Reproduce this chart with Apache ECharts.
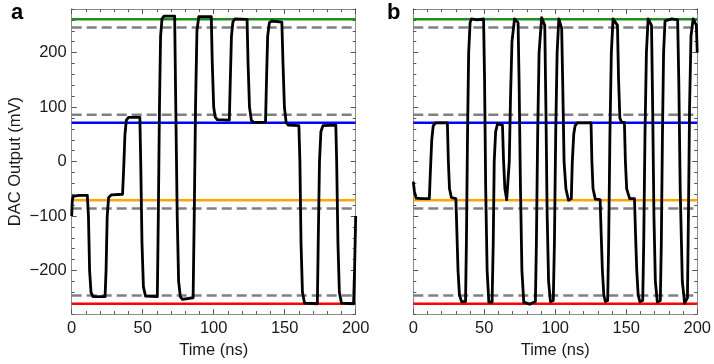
<!DOCTYPE html>
<html>
<head>
<meta charset="utf-8">
<script src="https://cdn.jsdelivr.net/npm/echarts@6/dist/echarts.min.js"></script>
<style>html,body{margin:0;padding:0;background:#fff}#c{width:714px;height:364px}</style>
</head>
<body>
<div id="c"></div>
<script>
// ---- data ----
const panelLabels = ['a', 'b'];
const xTicks = [0, 50, 100, 150, 200];
const yMajorTicks = [-200, -100, 0, 100, 200];
const yMinorTicks = [-280,-260,-240,-220,-180,-160,-140,-120,-80,-60,-40,-20,20,40,60,80,120,140,160,180,220,240,260,280];
const solidLevels = [261, 71, -71, -261];
const solidColors = ['#1f8c1f', '#0000ff', '#ffa500', '#ff0000'];
const dashedLevels = [246, 86, -86, -246];

const traceA = [
[0,-100],[0.4,-72],[1,-64],[5,-62],[11,-62],[11.8,-100],[12.6,-200],[13.6,-240],[15,-248],[23.5,-248],
[24.2,-200],[25,-100],[26,-66],[28,-61],[35.8,-60],[36.5,-20],[37.5,50],[38.5,76],[40,81],[48,81],
[48.6,0],[49.5,-150],[50.5,-230],[52,-247],[60.3,-248],[61,-100],[61.8,100],[62.6,230],[63.6,262],[65,267],
[72.5,267],[73.3,100],[74.3,-100],[75.3,-220],[76.5,-248],[78,-253],[85.5,-250],[86.3,-100],[87.2,100],[88.2,240],
[89.5,266],[98.3,266],[99,180],[100,100],[101,82],[102.5,77],[111,76],[111.7,150],[112.5,230],[113.5,256],
[115,262],[123.5,261],[124.2,180],[125.2,100],[126.5,76],[128,72],[136.5,72],[137.2,150],[138,230],[139.2,255],
[141,258],[148,256],[148.8,180],[149.8,100],[151,72],[152.5,67],[160,66],[160.7,0],[161.5,-150],[162.5,-240],
[164,-260],[173,-261],[173.6,-150],[174.5,0],[175.5,55],[177,66],[186,67],[186.6,0],[187.5,-150],[188.5,-240],
[190,-260],[198.5,-261],[199.2,-200],[200,-100]
];

const traceB = [
[0,-37],[0.8,-55],[2,-67],[6,-68],[11.3,-68],[12,-20],[13,40],[14,65],[15.5,71],[24,71],
[24.7,0],[25.5,-50],[26.8,-66],[30,-68],[30.6,-120],[31.5,-200],[32.5,-245],[34,-257],[36.8,-257],[37.4,-150],
[38.2,50],[39,200],[40,255],[41,262],[45,260],[49.5,262],[50.2,150],[51,-50],[52,-200],[53.2,-258],
[55.5,-258],[56.3,-150],[57,0],[58,55],[59.3,69],[62.8,67],[63.6,0],[64.5,-50],[65.8,-70],[67,-70],
[67.6,0],[68.5,120],[69.5,220],[71.3,262],[73.8,255],[74.5,150],[75.5,-50],[76.5,-200],[77.8,-258],[82,-262],
[86,-257],[86.7,-150],[87.6,50],[88.6,200],[90.4,264],[92.6,250],[93.4,100],[94.3,-100],[95.3,-220],[96.6,-257],
[98.6,-255],[99.4,-150],[100.3,50],[101.3,200],[102.5,262],[104.5,245],[105.2,150],[106.2,0],[107.5,-50],[109.3,-71],
[111.3,-68],[112,0],[113,50],[114,66],[115.5,71],[125.2,71],[125.8,0],[126.6,-50],[128.2,-69],[131.6,-70],
[132.3,-130],[133.2,-200],[134.2,-245],[135.3,-257],[136.9,-255],[137.6,-150],[138.5,50],[139.5,200],[140.7,262],[143.8,250],
[144.6,150],[145.5,80],[146.7,72],[148.7,72],[149.4,0],[150.3,-50],[152.4,-68],[155.8,-68],[156.5,-130],[157.4,-200],
[158.4,-245],[159.6,-257],[161.6,-255],[162.3,-150],[163.2,50],[164.2,200],[165.4,262],[167.8,250],[168.6,100],[169.5,-100],
[170.5,-220],[171.9,-258],[174,-255],[174.7,-150],[175.5,50],[176.3,200],[177.3,258],[182,262],[186.2,260],[187,150],
[188,-50],[189.5,-220],[191.1,-260],[193.1,-250],[193.8,-100],[194.6,100],[195.6,230],[197.1,262],[199.4,250],[200,200]
];
const traces = [traceA, traceB];

// ---- chart ----
const FONT = '"Liberation Sans", Arial, sans-serif';
const frame = '#8c8c8c';
const grids = [
  {left: 71.7, top: 9, width: 284, bottom: 45.3},
  {left: 413.3, top: 9, width: 284, bottom: 45.3}
];
const xAxes = [], yAxes = [], series = [];
grids.forEach((g, gi) => {
  ['bottom', 'top'].forEach(pos => {
    xAxes.push({
      type: 'value', gridIndex: gi, position: pos, min: 0, max: 200, interval: 50,
      axisLine: {show: true, onZero: false, lineStyle: {color: frame, width: 1}},
      axisTick: {show: true, inside: true, length: 5, lineStyle: {color: '#555'}},
      minorTick: {show: true, splitNumber: 5, length: 3, lineStyle: {color: '#555'}},
      splitLine: {show: false},
      axisLabel: {show: pos === 'bottom', fontFamily: FONT, fontSize: 16.5, color: '#1a1a1a', margin: 6,
        customValues: xTicks},
      name: pos === 'bottom' ? 'Time (ns)' : '', nameLocation: 'middle', nameGap: 27,
      nameTextStyle: {fontFamily: FONT, fontSize: 16.5, color: '#1a1a1a'}
    });
  });
  ['left', 'right'].forEach(pos => {
    [true, false].forEach(major => {
      yAxes.push({
        type: 'value', gridIndex: gi, position: pos, min: -280, max: 280,
        axisLine: {show: true, onZero: false, lineStyle: {color: frame, width: 1}},
        axisTick: {show: true, inside: true, length: major ? 5 : 3, lineStyle: {color: '#555'},
          customValues: major ? yMajorTicks : yMinorTicks},
        splitLine: {show: false},
        axisLabel: {show: gi === 0 && pos === 'left' && major, fontFamily: FONT, fontSize: 16.5, color: '#1a1a1a', margin: 5,
          customValues: yMajorTicks,
          formatter: v => String(v).replace('-', '\u2212')},
        name: (gi === 0 && pos === 'left' && major) ? 'DAC Output (mV)' : '',
        nameLocation: 'middle', nameGap: 48,
        nameTextStyle: {fontFamily: FONT, fontSize: 16.5, color: '#1a1a1a'}
      });
    });
  });
  const xi = gi * 2, yi = gi * 4;
  dashedLevels.forEach(v => series.push({
    type: 'line', xAxisIndex: xi, yAxisIndex: yi, data: [[0, v], [200, v]], symbol: 'none', silent: true,
    lineStyle: {color: '#808080', width: 2.5, type: [10, 5]}, z: 2
  }));
  solidLevels.forEach((v, i) => series.push({
    type: 'line', xAxisIndex: xi, yAxisIndex: yi, data: [[0, v], [200, v]], symbol: 'none', silent: true,
    lineStyle: {color: solidColors[i], width: 2.5}, z: 3
  }));
  series.push({
    type: 'line', xAxisIndex: xi, yAxisIndex: yi, data: traces[gi], symbol: 'none',
    lineStyle: {color: '#000', width: 2.8, join: 'round'}, z: 5
  });
});

const chart = echarts.init(document.getElementById('c'), null, {renderer: 'canvas'});
chart.setOption({
  animation: false,
  backgroundColor: '#fff',
  grid: grids,
  xAxis: xAxes,
  yAxis: yAxes,
  series: series,
  graphic: [
    {type: 'text', left: 11, top: 2, style: {text: panelLabels[0], font: 'bold 22px ' + FONT, fill: '#000'}},
    {type: 'text', left: 387, top: 2, style: {text: panelLabels[1], font: 'bold 22px ' + FONT, fill: '#000'}}
  ]
});
</script>
</body>
</html>
